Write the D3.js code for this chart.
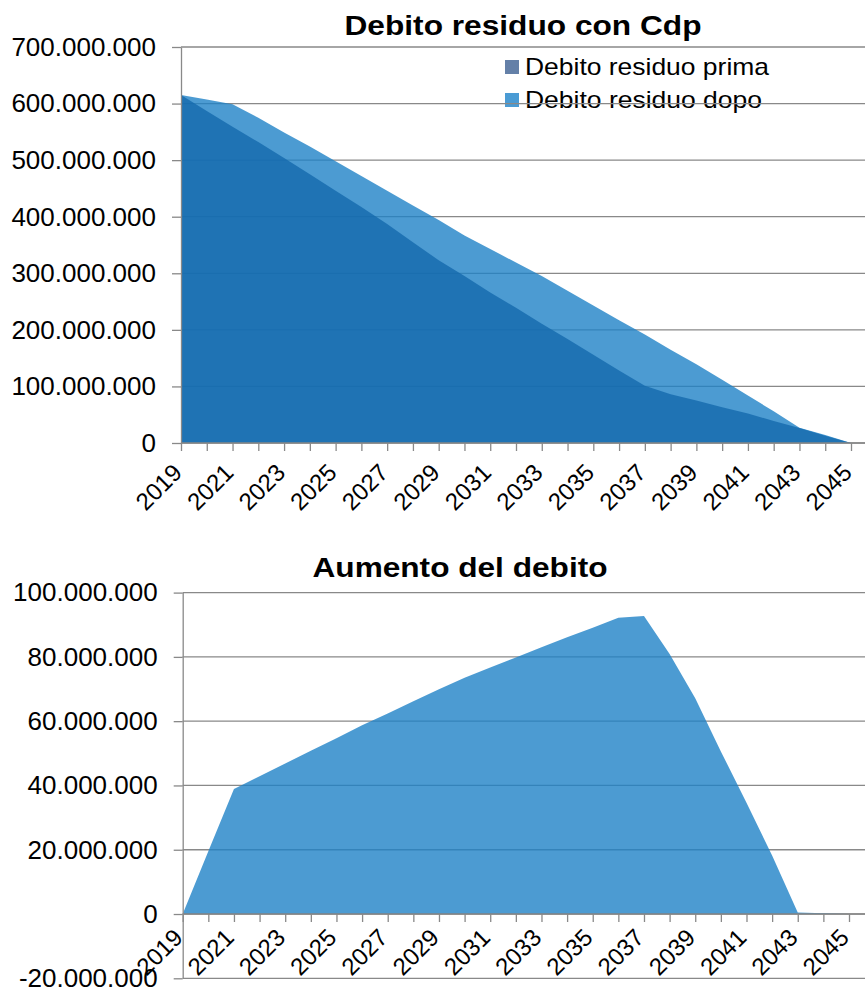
<!DOCTYPE html>
<html lang="it">
<head>
<meta charset="UTF-8">
<title>Debito residuo con Cdp</title>
<style>
  body { margin: 0; background: #fff; }
  svg { display: block; font-family: "Liberation Sans", Arial, sans-serif; }
</style>
</head>
<body>
<svg id="chart" width="865" height="988"></svg>
<script src="https://cdn.jsdelivr.net/npm/d3@7"></script>
<script>
/* global d3 */

// anni sull'asse orizzontale
var years = [2019, 2020, 2021, 2022, 2023, 2024, 2025, 2026, 2027, 2028, 2029, 2030, 2031, 2032,
             2033, 2034, 2035, 2036, 2037, 2038, 2039, 2040, 2041, 2042, 2043, 2044, 2045];

// valori in milioni di euro
var debitoPrima = [615, 587, 559, 532, 504, 475, 446, 417, 387, 355, 323, 295, 266, 239,
                   211, 184, 156, 128, 101, 86, 75, 63, 52, 39, 26.5, 13, 0];
var debitoDopo = [615, 607, 599, 575, 549, 524, 498, 472, 446, 420, 394, 367, 343, 319,
                  295, 269, 243, 217, 192, 165, 139, 112, 84, 56, 27, 14, 0];
var aumento = [0, 19.5, 38.9, 42.9, 46.8, 50.8, 54.7, 58.7, 62.4, 66.2, 69.9, 73.5, 76.7, 79.8,
               83.0, 86.1, 89.1, 92.2, 92.7, 80.9, 67.1, 50.6, 34.6, 18.2, 0.5, 0.2, 0];

var ticksTop = [0, 100, 200, 300, 400, 500, 600, 700];
var ticksBottom = [-20, 0, 20, 40, 60, 80, 100];
var legendLabels = ["Debito residuo prima", "Debito residuo dopo"];

var svg = d3.select("#chart");
var W = 865;

var itLocale = d3.formatLocale({decimal: ",", thousands: ".", grouping: [3], currency: ["€", ""], minus: "-"});
var fmt = itLocale.format(",.0f");
var fmtMln = d => fmt(d * 1e6);

var gridColor = "#898989";
var colDopo = "#1f82c7";   // with opacity .8 over white -> #4c9bd2
var colPrima = "#1469ad";

function panel(cfg) {
    var x = d3.scaleLinear().domain([years[0], years[years.length - 1]]).range(cfg.xRange);
    var y = d3.scaleLinear().domain(cfg.yDomain).range(cfg.yRange);
    var g = svg.append("g");

    g.append("text")
        .attr("x", cfg.titleX)
        .attr("y", cfg.titleY)
        .attr("text-anchor", "middle")
        .attr("font-weight", "bold")
        .attr("font-size", 28)
        .attr("textLength", cfg.titleLen)
        .attr("lengthAdjust", "spacingAndGlyphs")
        .text(cfg.title);

    if (cfg.before) cfg.before(g);

    // gridlines
    g.selectAll("line.grid")
        .data(cfg.ticks)
        .join("line")
        .attr("class", "grid")
        .attr("x1", cfg.xRange[0])
        .attr("x2", W)
        .attr("y1", d => y(d))
        .attr("y2", d => y(d))
        .attr("stroke", gridColor)
        .attr("stroke-width", 1.3);

    cfg.series.forEach(function(s) {
        var area = d3.area()
            .x((d, i) => x(years[i]))
            .y0(y(0))
            .y1(d => y(d));
        g.append("path")
            .datum(s.values)
            .attr("d", area)
            .attr("fill", s.color)
            .attr("fill-opacity", 0.8);
    });

    // y axis
    var yAxis = g.append("g")
        .attr("transform", `translate(${cfg.xRange[0]},0)`)
        .call(d3.axisLeft(y).tickValues(cfg.ticks).tickSize(9).tickSizeOuter(0).tickPadding(16).tickFormat(fmtMln));
    yAxis.attr("font-size", 26).attr("font-family", null);
    yAxis.selectAll("path, line").attr("stroke", gridColor).attr("stroke-width", 1.3);
    yAxis.selectAll("text").attr("fill", "#000");

    // x axis at zero
    var xAxis = g.append("g")
        .attr("transform", `translate(0,${y(0)})`)
        .call(d3.axisBottom(x).tickValues(years).tickSize(8).tickSizeOuter(0)
            .tickFormat((d, i) => i % 2 === 0 ? d : ""));
    xAxis.attr("font-size", 24).attr("font-family", null);
    xAxis.select(".domain").remove();
    xAxis.append("line")
        .attr("x1", cfg.xRange[0]).attr("x2", W)
        .attr("stroke", gridColor).attr("stroke-width", 1.3);
    xAxis.selectAll("line").attr("stroke", gridColor).attr("stroke-width", 1.3);
    xAxis.selectAll("text")
        .attr("x", 0).attr("y", 0).attr("dy", 0)
        .attr("fill", "#000")
        .attr("text-anchor", "end")
        .attr("transform", `translate(${cfg.labelDx},${cfg.labelDy}) rotate(-45)`);
}

panel({
    title: "Debito residuo con Cdp",
    titleX: 523, titleY: 35, titleLen: 357,
    xRange: [181, 851],
    yDomain: [0, 700], yRange: [443, 47],
    ticks: ticksTop,
    labelDx: 2, labelDy: 31,
    series: [
        {values: debitoDopo, color: colDopo},
        {values: debitoPrima, color: colPrima}
    ],
    before: function(g) {
        var lg = g.append("g");
        var swatch = ["#6480a8", "#4a9bd4"];
        legendLabels.forEach(function(lbl, i) {
            lg.append("rect")
                .attr("x", 505).attr("y", 60 + i * 33)
                .attr("width", 14).attr("height", 14)
                .attr("fill", swatch[i]);
            lg.append("text")
                .attr("x", 525).attr("y", 74.5 + i * 33)
                .attr("font-size", 24)
                .attr("textLength", i === 0 ? 244 : 237)
                .attr("lengthAdjust", "spacingAndGlyphs")
                .text(lbl);
        });
    }
});

panel({
    title: "Aumento del debito",
    titleX: 460, titleY: 577, titleLen: 295,
    xRange: [182.7, 849],
    yDomain: [-20, 100], yRange: [978.3, 592.6],
    ticks: ticksBottom,
    labelDx: 1, labelDy: 25,
    series: [
        {values: aumento, color: colDopo}
    ]
});
</script>
</body>
</html>
